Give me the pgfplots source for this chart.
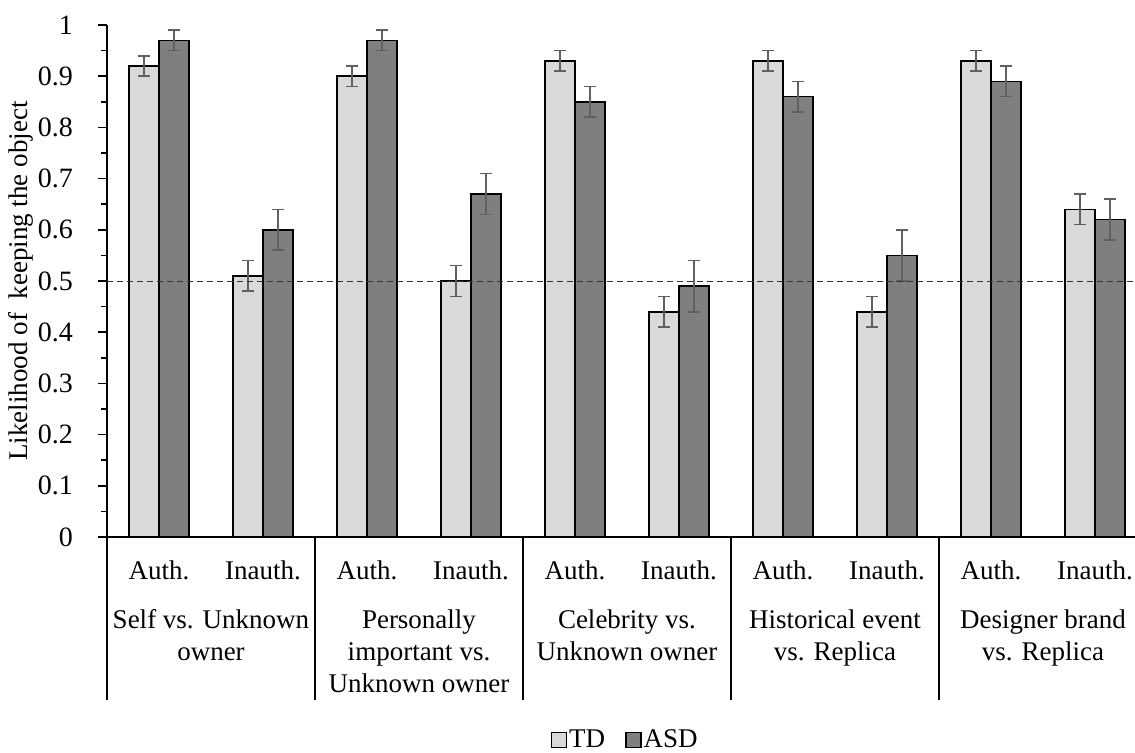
\documentclass[border=0pt]{standalone}
\usepackage{fontspec}
\setmainfont{Liberation Serif}
\usepackage{pgfplots}
\pgfplotsset{compat=1.18}
\usepackage{pgfplotstable}

\pgfplotstableread{
x td tde asd asde
0 0.92 0.02 0.97 0.02
1 0.51 0.03 0.60 0.04
2 0.90 0.02 0.97 0.02
3 0.50 0.03 0.67 0.04
4 0.93 0.02 0.85 0.03
5 0.44 0.03 0.49 0.05
6 0.93 0.02 0.86 0.03
7 0.44 0.03 0.55 0.05
8 0.93 0.02 0.89 0.03
9 0.64 0.03 0.62 0.04
}\datatable

\definecolor{tdcol}{HTML}{D9D9D9}
\definecolor{asdcol}{HTML}{7F7F7F}
\definecolor{errcol}{HTML}{606060}

\newcommand{\chartfont}{\fontsize{13.5}{16}\selectfont}

\begin{document}
\begin{tikzpicture}
\begin{axis}[
  scale only axis,
  width=514pt, height=256pt,
  xmin=-0.5, xmax=9.385, ymin=0, ymax=1,
  ybar=0pt, bar width=0.29,
  axis x line*=bottom, axis y line*=left,
  axis line style={line width=0.8pt, black},
  xtick={0,1,2,3,4,5,6,7,8,9},
  xticklabels={Auth.,Inauth.,Auth.,Inauth.,Auth.,Inauth.,Auth.,Inauth.,Auth.,Inauth.},
  major x tick style={draw=none},
  xticklabel style={anchor=base, yshift=-16.5pt, font=\chartfont},
  ytick={0,0.1,0.2,0.3,0.4,0.5,0.6,0.7,0.8,0.9,1},
  yticklabels={0,0.1,0.2,0.3,0.4,0.5,0.6,0.7,0.8,0.9,1},
  yticklabel style={font=\fontsize{14}{16}\selectfont, xshift=-9pt},
  minor y tick num=1,
  tick align=outside,
  major tick length=4.5pt, minor tick length=3pt,
  tick style={black, line width=0.8pt},
  /pgf/number format/assume math mode=true,
  ylabel={Likelihood of\ \ keeping the object},
  every axis y label/.style={at={(axis description cs:-0.0836,0.5)}, rotate=90, anchor=center, font=\chartfont},
  clip=false,
  legend style={draw=none, fill=none, legend columns=2, at={(0.504,-0.3965)}, anchor=center,
    font=\chartfont, nodes={inner sep=1pt},
    /tikz/every even column/.append style={column sep=9pt}},
  error bars/y dir=both,
  error bars/y explicit,
  error bars/error bar style={line width=0.8pt, errcol},
  error bars/error mark=-,
  error bars/error mark options={rotate=90, mark size=3pt, line width=0.8pt, errcol},
]
\addplot[fill=tdcol, draw=black, line width=0.8pt,
  legend image code/.code={\draw[fill=tdcol, draw=black, line width=0.8pt] (0pt,-3.75pt) rectangle (7.5pt,3.75pt);}]
  table[x=x, y=td, y error=tde] {\datatable};
\addlegendentry{TD}
\addplot[fill=asdcol, draw=black, line width=0.8pt,
  legend image code/.code={\draw[fill=asdcol, draw=black, line width=0.8pt] (0pt,-3.75pt) rectangle (7.5pt,3.75pt);}]
  table[x=x, y=asd, y error=asde] {\datatable};
\addlegendentry{ASD}

\draw[black!80, line width=0.5pt, dash pattern=on 3pt off 2pt] (axis cs:-0.5,0.5) -- (axis cs:9.385,0.5);

\draw[black, line width=0.8pt] (axis cs:-0.5,0) -- (axis cs:-0.5,-0.318);
\draw[black, line width=0.8pt] (axis cs:1.5,0) -- (axis cs:1.5,-0.318);
\draw[black, line width=0.8pt] (axis cs:3.5,0) -- (axis cs:3.5,-0.318);
\draw[black, line width=0.8pt] (axis cs:5.5,0) -- (axis cs:5.5,-0.318);
\draw[black, line width=0.8pt] (axis cs:7.5,0) -- (axis cs:7.5,-0.318);

\node[anchor=north, align=center, font=\chartfont, inner sep=0pt] at (axis cs:0.5,-0.1406) {Self vs. Unknown\\owner};
\node[anchor=north, align=center, font=\chartfont, inner sep=0pt] at (axis cs:2.5,-0.1406) {Personally\\important vs.\\Unknown owner};
\node[anchor=north, align=center, font=\chartfont, inner sep=0pt] at (axis cs:4.5,-0.1406) {Celebrity vs.\\Unknown owner};
\node[anchor=north, align=center, font=\chartfont, inner sep=0pt] at (axis cs:6.5,-0.1406) {Historical event\\vs. Replica};
\node[anchor=north, align=center, font=\chartfont, inner sep=0pt] at (axis cs:8.5,-0.1406) {Designer brand\\vs. Replica};
\end{axis}
\pgfresetboundingbox
\path[use as bounding box] (-53.5pt,-107.5pt) rectangle (514pt,268.5pt);
\end{tikzpicture}
\end{document}
